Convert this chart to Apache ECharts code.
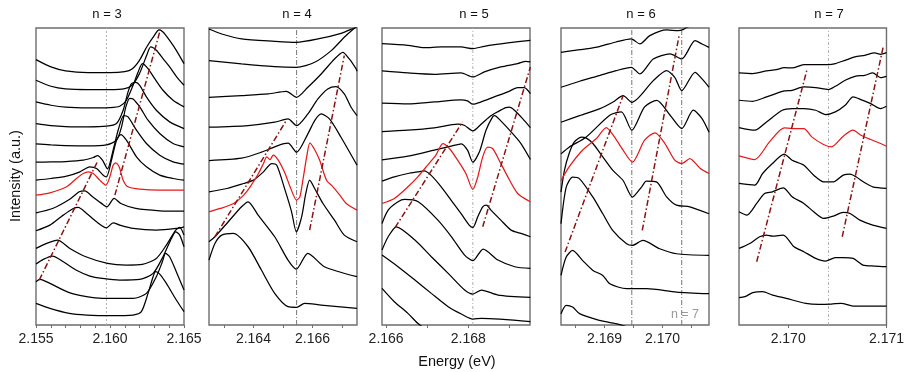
<!DOCTYPE html>
<html><head><meta charset="utf-8">
<script src="https://cdn.jsdelivr.net/npm/echarts@6/dist/echarts.min.js"></script>
<style>html,body{margin:0;padding:0;background:#fff}#c{width:907px;height:372px}</style>
</head><body><div id="c"></div><script>
// ---------- panel n = 3 ----------
const n3Range = [2.155, 2.165];
const n3Labels = [2.155, 2.160, 2.165];
const n3Ticks = [2.155, 2.156, 2.157, 2.158, 2.159, 2.160, 2.161, 2.162, 2.163, 2.164, 2.165];
const n3Black = [
 [[2.155,797],[2.15601,775],[2.157,763],[2.15851,758],[2.15999,758],[2.161,761],[2.16149,769],[2.16199,795],[2.16248,835],[2.163,870],[2.16331,886],[2.16358,880],[2.16399,857],[2.16448,825],[2.165,785]],
 [[2.155,735],[2.15601,717],[2.157,709],[2.15851,707],[2.15999,707],[2.161,710],[2.16149,720],[2.16199,755],[2.16248,810],[2.16275,835],[2.16313,825],[2.16358,800],[2.16403,775],[2.16448,747],[2.165,720]],
 [[2.155,670],[2.15601,660],[2.157,654],[2.15851,652],[2.15999,653],[2.16066,657],[2.16111,675],[2.16156,720],[2.1619,760],[2.16219,785],[2.16257,770],[2.16302,740],[2.16358,705],[2.16426,675],[2.165,655]],
 [[2.155,605],[2.15601,599],[2.157,596],[2.15851,595],[2.15976,597],[2.16044,605],[2.16089,645],[2.16122,700],[2.16145,725],[2.16174,729],[2.16201,720],[2.16246,685],[2.16313,645],[2.16403,610],[2.165,590]],
 [[2.155,544],[2.15601,541],[2.157,539],[2.15851,538],[2.15976,541],[2.16044,555],[2.16078,595],[2.16107,655],[2.16134,681],[2.16156,679],[2.16201,655],[2.16257,615],[2.16336,575],[2.16426,545],[2.165,535]],
 [[2.155,489],[2.15601,490],[2.157,491],[2.15819,495],[2.15887,503],[2.15916,509],[2.15949,495],[2.15983,469],[2.16021,525],[2.16055,585],[2.16093,629],[2.16122,625],[2.16179,585],[2.16246,545],[2.16336,510],[2.16426,490],[2.165,483]],
 [[2.155,435],[2.15601,440],[2.15707,447],[2.15797,460],[2.15864,475],[2.15909,470],[2.15954,450],[2.15976,445],[2.1601,495],[2.16044,555],[2.16073,572],[2.16111,555],[2.16179,505],[2.16246,475],[2.16336,450],[2.16426,440],[2.165,435]],
 [[2.155,337],[2.15612,350],[2.15725,377],[2.15792,400],[2.1583,403],[2.15882,385],[2.15949,363],[2.15979,355],[2.16028,380],[2.16073,365],[2.16174,350],[2.16336,343],[2.165,342]],
 [[2.155,283],[2.15594,300],[2.15684,330],[2.15752,350],[2.15785,353],[2.15842,335],[2.15909,310],[2.15976,292],[2.16021,307],[2.16066,300],[2.16156,290],[2.16313,285],[2.16448,290],[2.165,295]],
 [[2.155,230],[2.15572,245],[2.15646,255],[2.15729,230],[2.15837,205],[2.15983,185],[2.16111,180],[2.16219,182],[2.16313,200],[2.16381,240],[2.16444,285],[2.16471,293],[2.165,270]],
 [[2.155,183],[2.15549,197],[2.15612,207],[2.15684,190],[2.1577,165],[2.15864,147],[2.15949,140],[2.16066,135],[2.16201,137],[2.16291,155],[2.16358,205],[2.16415,260],[2.16444,280],[2.16471,270],[2.165,235]],
 [[2.155,130],[2.15527,137],[2.15594,125],[2.15725,97],[2.15842,85],[2.15949,80],[2.16156,80],[2.16246,95],[2.16313,145],[2.16354,190],[2.16376,215],[2.16403,205],[2.16448,160],[2.165,105]],
 [[2.155,65],[2.15594,50],[2.15725,35],[2.15842,30],[2.15999,28],[2.16156,30],[2.16212,40],[2.16257,95],[2.16291,145],[2.16309,160],[2.16336,153],[2.16381,125],[2.16448,75],[2.165,40]]
];
const n3Red = [[2.155,390],[2.15594,397],[2.15707,415],[2.15774,440],[2.15819,455],[2.15853,460],[2.15887,455],[2.15931,435],[2.15972,420],[2.15999,445],[2.16021,480],[2.16039,487],[2.16062,475],[2.16089,435],[2.16122,415],[2.16201,408],[2.16336,405],[2.165,405]];
const n3Guides = [[[2.16033,390],[2.1634,887]], [[2.15522,135],[2.1592,495]]];
const n3Marks = [2.15976];

// ---------- panel n = 4 ----------
const n4Range = [2.1625, 2.1675];
const n4Labels = [2.164, 2.166];
const n4Ticks = [2.163, 2.164, 2.165, 2.166, 2.167];
const n4Black = [
 [[2.1625,889],[2.16293,874],[2.1636,859],[2.16472,852],[2.16545,849],[2.16618,859],[2.16696,876],[2.16741,892],[2.1675,895]],
 [[2.1625,794],[2.1636,784],[2.16472,776],[2.16545,774],[2.16607,789],[2.16663,824],[2.16707,864],[2.16741,891],[2.1675,897]],
 [[2.1625,684],[2.1636,689],[2.1645,694],[2.16511,702],[2.16546,684],[2.16584,714],[2.16629,754],[2.16674,799],[2.16702,819],[2.16724,799],[2.16747,769],[2.1675,762]],
 [[2.1625,594],[2.16382,599],[2.16472,609],[2.16517,619],[2.16546,599],[2.16584,634],[2.16618,679],[2.16651,709],[2.16679,716],[2.16707,694],[2.1673,654],[2.1675,629]],
 [[2.1625,494],[2.1636,501],[2.16427,519],[2.16483,539],[2.16517,546],[2.16546,519],[2.16584,574],[2.16607,614],[2.16629,634],[2.16657,619],[2.16696,564],[2.1675,480]],
 [[2.1625,400],[2.16311,410],[2.16367,425],[2.164,435],[2.16434,460],[2.16462,485],[2.16479,480],[2.16507,405],[2.16529,340],[2.16545,280],[2.16563,325],[2.16577,395],[2.1659,435],[2.16607,410],[2.16635,365],[2.16674,315],[2.16707,270],[2.1675,250]],
 [[2.1625,250],[2.1627,265],[2.16315,310],[2.1636,355],[2.16382,370],[2.16416,330],[2.16472,265],[2.16517,195],[2.16545,168],[2.16584,215],[2.1664,175],[2.1675,145]],
 [[2.1625,195],[2.1627,245],[2.16293,270],[2.16332,275],[2.16382,235],[2.16427,165],[2.16472,95],[2.16517,55],[2.16546,53],[2.16573,65],[2.16629,60],[2.1675,50]]
];
const n4Red = [[2.1625,340],[2.16288,350],[2.16333,365],[2.16367,390],[2.16389,415],[2.16417,455],[2.16434,485],[2.16445,505],[2.16456,497],[2.16467,510],[2.16484,495],[2.16507,455],[2.16524,415],[2.16546,375],[2.16557,385],[2.16568,440],[2.1658,505],[2.16591,547],[2.16608,525],[2.16624,495],[2.16647,435],[2.16669,415],[2.16692,390],[2.16714,365],[2.1675,345]];
const n4Guides = [[[2.1627,265],[2.16511,614]], [[2.1659,285],[2.16707,809]]];
const n4Marks = [2.16546];

// ---------- panel n = 5 ----------
const n5Range = [2.1659, 2.1695];
const n5Labels = [2.166, 2.168];
const n5Ticks = [2.166, 2.167, 2.168, 2.169];
const n5Black = [
 [[2.1659,845],[2.16653,840],[2.16693,833],[2.16734,835],[2.16782,835],[2.16811,830],[2.16839,837],[2.16896,847],[2.16951,855]],
 [[2.1659,763],[2.16653,757],[2.16717,753],[2.16782,757],[2.16811,745],[2.16839,760],[2.16879,775],[2.1692,785],[2.1694,792],[2.16951,790]],
 [[2.1659,666],[2.16653,664],[2.16717,670],[2.16782,676],[2.16798,673],[2.16811,663],[2.16831,670],[2.16863,685],[2.16896,700],[2.1692,713],[2.16936,713],[2.16951,695]],
 [[2.1659,581],[2.16653,585],[2.16717,592],[2.16774,603],[2.1679,600],[2.16811,583],[2.16831,603],[2.16851,625],[2.16871,640],[2.16891,653],[2.169,654],[2.16912,645],[2.16932,620],[2.16951,593]],
 [[2.1659,496],[2.16653,507],[2.16717,525],[2.16758,537],[2.16783,544],[2.16798,525],[2.16811,489],[2.16827,520],[2.16843,585],[2.16859,625],[2.16864,629],[2.16879,613],[2.16904,580],[2.16928,545],[2.16951,497]],
 [[2.1659,432],[2.1662,445],[2.16653,455],[2.16677,460],[2.16693,463],[2.16709,450],[2.16734,415],[2.16758,375],[2.16782,335],[2.16802,300],[2.16811,293],[2.16823,325],[2.16835,355],[2.16844,360],[2.16855,345],[2.16879,315],[2.16904,285],[2.16928,275],[2.16951,265]],
 [[2.1659,305],[2.16605,345],[2.16629,370],[2.16645,377],[2.16678,370],[2.16726,315],[2.16759,265],[2.16791,210],[2.16811,193],[2.16836,228],[2.16872,195],[2.16913,175],[2.16951,170]],
 [[2.1659,225],[2.16605,265],[2.16625,295],[2.1667,255],[2.1671,205],[2.16751,155],[2.16791,105],[2.16811,93],[2.16832,105],[2.16872,90],[2.16951,83]],
 [[2.1659,210],[2.16629,175],[2.1667,135],[2.1671,95],[2.16751,55],[2.16783,33],[2.16811,18],[2.16832,20],[2.16951,10]],
 [[2.1659,110],[2.1662,70],[2.16653,35],[2.16677,5],[2.16693,-10]]
];
const n5Red = [[2.1659,365],[2.1662,380],[2.16653,415],[2.16677,445],[2.16701,480],[2.16721,510],[2.16738,545],[2.16754,530],[2.16774,495],[2.16794,455],[2.16811,407],[2.16823,445],[2.16835,505],[2.16847,534],[2.16859,530],[2.16875,495],[2.16896,445],[2.1692,395],[2.16951,370]];
const n5Guides = [[[2.16622,293],[2.16786,610]], [[2.16835,295],[2.16951,775]]];
const n5Marks = [2.16811];

// ---------- panel n = 6 ----------
const n6Range = [2.16825, 2.1708];
const n6Labels = [2.169, 2.170];
const n6Ticks = [2.1685, 2.169, 2.1695, 2.170, 2.1705];
const n6Black = [
 [[2.16825,819],[2.16845,824],[2.16868,829],[2.16891,836],[2.1692,850],[2.16946,859],[2.16961,844],[2.16978,869],[2.17007,886],[2.17027,884],[2.17036,888],[2.17042,894],[2.17059,905],[2.1708,915]],
 [[2.16825,714],[2.16857,732],[2.16891,749],[2.1692,764],[2.16946,774],[2.16961,754],[2.16984,799],[2.17013,814],[2.17033,799],[2.17056,854],[2.17068,844],[2.1708,834]],
 [[2.16825,609],[2.16857,629],[2.16891,649],[2.16914,669],[2.16932,689],[2.16947,669],[2.16984,734],[2.17007,764],[2.17021,744],[2.17033,704],[2.17056,759],[2.17068,739],[2.1708,714]],
 [[2.16825,514],[2.16839,534],[2.16868,564],[2.16909,630],[2.16929,640],[2.16947,585],[2.16969,655],[2.1699,675],[2.17013,630],[2.17033,590],[2.17053,645],[2.17068,620],[2.1708,579]],
 [[2.16825,399],[2.16831,465],[2.16839,515],[2.16848,550],[2.1686,564],[2.16868,562],[2.1688,545],[2.16897,505],[2.16914,465],[2.16932,434],[2.16948,384],[2.16964,415],[2.16972,432],[2.1699,429],[2.17007,385],[2.17024,360],[2.17047,355],[2.1708,334]],
 [[2.16825,304],[2.16834,414],[2.16845,444],[2.16857,439],[2.1688,384],[2.16897,334],[2.16914,284],[2.16938,244],[2.16948,239],[2.16966,254],[2.16995,229],[2.17024,214],[2.1708,209]],
 [[2.16825,149],[2.16834,204],[2.16845,224],[2.16862,194],[2.1688,164],[2.16897,149],[2.16909,124],[2.16938,109],[2.16972,109],[2.17024,99],[2.1708,94]],
 [[2.16825,34],[2.16834,59],[2.16845,54],[2.16857,34],[2.16891,14],[2.1692,4],[2.16938,-5]]
];
const n6Red = [[2.16825,434],[2.16839,475],[2.16862,525],[2.16886,560],[2.16903,593],[2.16917,565],[2.16932,525],[2.16948,489],[2.16969,555],[2.16987,577],[2.17004,545],[2.17021,495],[2.17033,485],[2.17047,500],[2.17065,470],[2.1708,455]];
const n6Guides = [[[2.16832,219],[2.16932,689]], [[2.16965,284],[2.17029,874]]];
const n6Marks = [2.16947, 2.17033];

// ---------- panel n = 7 ----------
const n7Range = [2.1695, 2.171];
const n7Labels = [2.170, 2.171];
const n7Ticks = [2.170, 2.171];
const n7Black = [
 [[2.1695,757],[2.16964,755],[2.16978,763],[2.16988,767],[2.16996,773],[2.17004,772],[2.17016,782],[2.17028,782],[2.17041,782],[2.17048,785],[2.17058,795],[2.17068,805],[2.17078,810],[2.17088,817],[2.17094,813],[2.171,818]],
 [[2.1695,675],[2.16964,672],[2.16978,685],[2.16996,703],[2.17004,705],[2.17016,715],[2.17028,713],[2.17041,707],[2.17048,717],[2.17058,735],[2.17068,747],[2.17078,750],[2.17086,757],[2.17094,743],[2.171,747]],
 [[2.1695,593],[2.16966,585],[2.16978,610],[2.16994,645],[2.17004,650],[2.17016,650],[2.17028,645],[2.17038,632],[2.17048,640],[2.17058,660],[2.17066,685],[2.17074,677],[2.17084,665],[2.17094,650],[2.171,657]],
 [[2.1695,425],[2.16966,420],[2.16974,455],[2.16984,485],[2.16996,513],[2.17004,495],[2.17016,480],[2.17026,450],[2.17036,430],[2.17046,430],[2.17056,450],[2.17063,453],[2.17069,445],[2.17078,427],[2.17086,415],[2.171,410]],
 [[2.1695,340],[2.16958,330],[2.16968,365],[2.16976,395],[2.16984,400],[2.16995,412],[2.17004,385],[2.17016,365],[2.17026,340],[2.17036,320],[2.17046,327],[2.17056,338],[2.17063,335],[2.17073,315],[2.17086,300],[2.171,290]],
 [[2.1695,230],[2.16961,245],[2.16971,265],[2.16978,270],[2.16984,267],[2.16995,270],[2.17006,235],[2.17016,220],[2.17028,200],[2.17038,192],[2.17048,202],[2.17056,202],[2.17066,200],[2.17076,180],[2.17088,177],[2.171,175]],
 [[2.1695,82],[2.16956,85],[2.16964,97],[2.16974,100],[2.16984,90],[2.16998,80],[2.17018,65],[2.17031,62],[2.17044,63],[2.17054,65],[2.17066,57],[2.17081,57],[2.171,57]]
];
const n7Red = [[2.1695,508],[2.16966,497],[2.16981,550],[2.16996,592],[2.17004,590],[2.17016,590],[2.17024,565],[2.17036,542],[2.17044,535],[2.17056,567],[2.17066,585],[2.17074,570],[2.17084,557],[2.17094,545],[2.171,537]];
const n7Guides = [[[2.16968,190],[2.17019,765]], [[2.17055,265],[2.17097,840]]];
const n7Marks = [2.17041];

const yMax = 892;

const panels = [
 {title:'n = 3', titleX:107, left:36, range:n3Range, labels:n3Labels, ticks:n3Ticks, black:n3Black, red:n3Red, guides:n3Guides, marks:n3Marks, markColor:'#b0b0b0', markDash:[2,2]},
 {title:'n = 4', titleX:297, left:209, range:n4Range, labels:n4Labels, ticks:n4Ticks, black:n4Black, red:n4Red, guides:n4Guides, marks:n4Marks, markColor:'#777', markDash:[5,2,1,2]},
 {title:'n = 5', titleX:474, left:382, range:n5Range, labels:n5Labels, ticks:n5Ticks, black:n5Black, red:n5Red, guides:n5Guides, marks:n5Marks, markColor:'#b0b0b0', markDash:[3,2,1,2]},
 {title:'n = 6', titleX:641, left:561, range:n6Range, labels:n6Labels, ticks:n6Ticks, black:n6Black, red:n6Red, guides:n6Guides, marks:n6Marks, markColor:'#777', markDash:[5,2,1,2]},
 {title:'n = 7', titleX:829, left:739, range:n7Range, labels:n7Labels, ticks:n7Ticks, black:n7Black, red:n7Red, guides:n7Guides, marks:n7Marks, markColor:'#b0b0b0', markDash:[3,2,1,2]}
];

const grid = [], xAxis = [], yAxis = [], series = [], graphic = [];
panels.forEach((p, i) => {
  grid.push({left:p.left, top:28, width:148, height:297, show:true, borderColor:'#6e6e6e', borderWidth:1.4, backgroundColor:'transparent', containLabel:false});
  xAxis.push({type:'value', gridIndex:i, min:p.range[0], max:p.range[1],
    axisLine:{show:false}, splitLine:{show:false},
    axisTick:{show:true, inside:false, length:3, lineStyle:{color:'#6e6e6e', width:1}, customValues:p.ticks},
    axisLabel:{show:true, margin:7, color:'#222', fontSize:14, fontFamily:'Liberation Sans, Arial, sans-serif',
      customValues:p.labels, formatter:v => Number(v).toFixed(3)}});
  yAxis.push({type:'value', gridIndex:i, min:0, max:yMax, show:false});
  p.marks.forEach(m => series.push({type:'line', xAxisIndex:i, yAxisIndex:i, data:[[m,0],[m,yMax]], showSymbol:false, silent:true, z:1,
    lineStyle:{color:p.markColor, width:1, type:p.markDash}}));
  p.black.forEach(c => series.push({type:'line', xAxisIndex:i, yAxisIndex:i, data:c, showSymbol:false, silent:true, smooth:0.25, z:3,
    lineStyle:{color:'#000', width:1.25}}));
  series.push({type:'line', xAxisIndex:i, yAxisIndex:i, data:p.red, showSymbol:false, silent:true, smooth:0.25, z:4,
    lineStyle:{color:'#e8191b', width:1.25}});
  p.guides.forEach(g => series.push({type:'line', xAxisIndex:i, yAxisIndex:i, data:g, showSymbol:false, silent:true, z:5,
    lineStyle:{color:'#8a1212', width:1.5, type:[6,2.5,1.5,2.5]}}));
  graphic.push({type:'text', x:p.titleX, y:14, style:{text:p.title, fill:'#111', font:'13px "Liberation Sans", Arial, sans-serif', textAlign:'center', textVerticalAlign:'middle'}});
});
graphic.push({type:'text', x:685, y:315, style:{text:'n = 7', fill:'#9a9a9a', font:'12.5px "Liberation Sans", Arial, sans-serif', textAlign:'center', textVerticalAlign:'middle'}, z:10});
graphic.push({type:'text', x:457, y:362, style:{text:'Energy (eV)', fill:'#111', font:'14.5px "Liberation Sans", Arial, sans-serif', textAlign:'center', textVerticalAlign:'middle'}});
graphic.push({type:'text', x:16, y:176, rotation:Math.PI/2, style:{text:'Intensity (a.u.)', fill:'#111', font:'14.5px "Liberation Sans", Arial, sans-serif', textAlign:'center', textVerticalAlign:'middle'}});

const chart = echarts.init(document.getElementById('c'), null, {renderer:'canvas'});
chart.setOption({animation:false, backgroundColor:'#fff', grid, xAxis, yAxis, series, graphic});
</script></body></html>
